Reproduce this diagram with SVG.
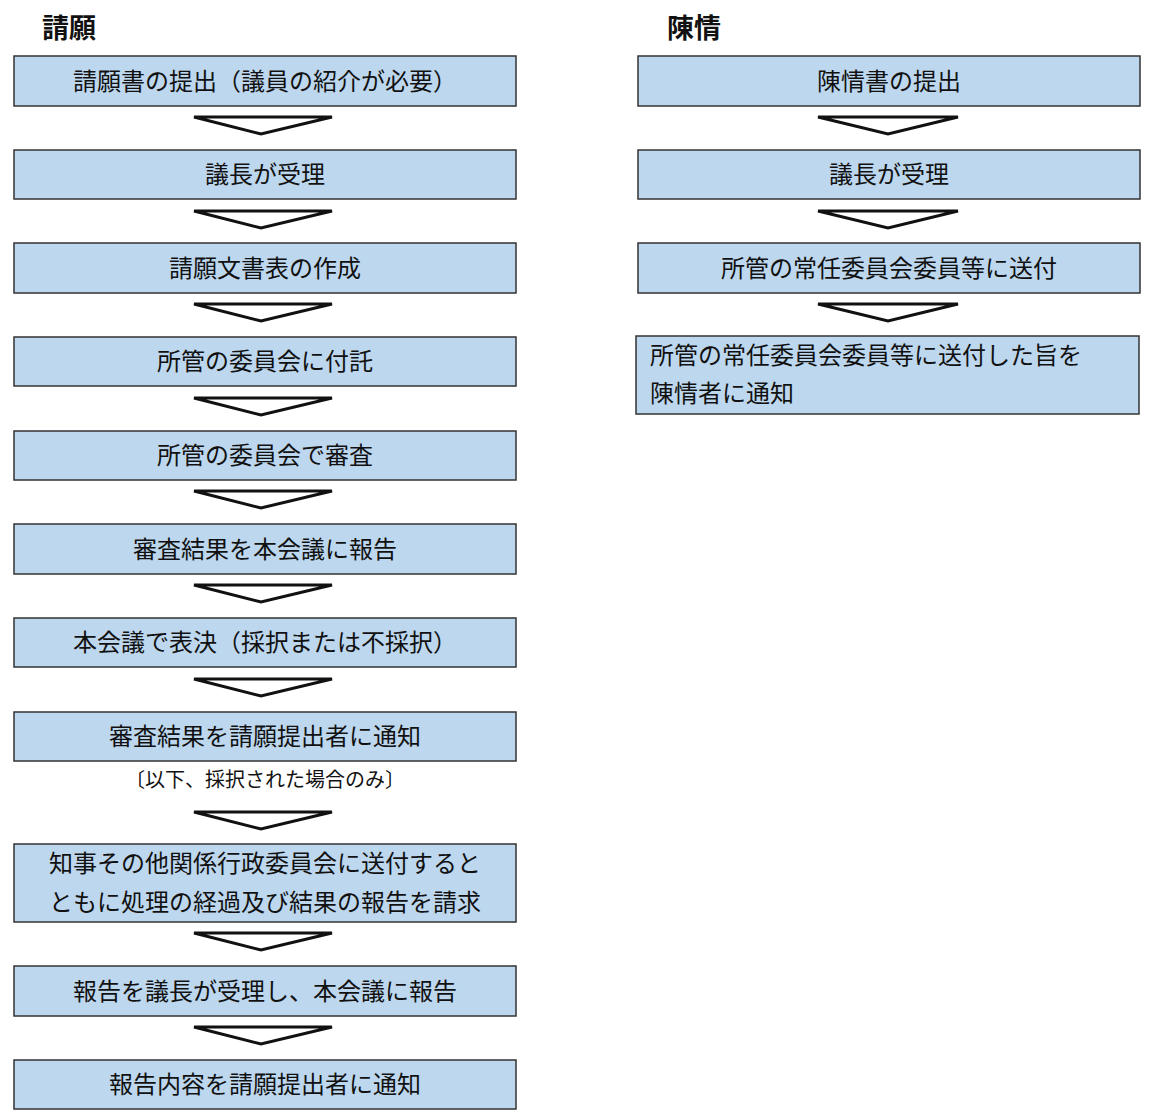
<svg xmlns="http://www.w3.org/2000/svg" width="1153" height="1117" viewBox="0 0 1153 1117">
<style>
.b{fill:#bdd7ee;stroke:#333;stroke-width:1.5}
.t{font-family:"Liberation Serif","Noto Sans CJK JP",serif;font-size:24px;fill:#111}
.c{text-anchor:middle}
.h{font-family:"Liberation Sans","Noto Sans CJK JP",sans-serif;font-size:27px;font-weight:bold;fill:#111}
.a{fill:#fff;stroke:#111;stroke-width:3;stroke-linejoin:miter}
</style>
<rect width="1153" height="1117" fill="#fff"/>
<text class="h" x="42" y="38">請願</text>
<text class="h" x="667" y="38">陳情</text>
<g id="l1"><rect class="b" x="14" y="56" width="502" height="50"/><text class="t c" x="265" y="90">請願書の提出（議員の紹介が必要）</text></g>
<g id="l2"><rect class="b" x="14" y="150" width="502" height="49"/><text class="t c" x="265" y="183">議長が受理</text></g>
<g id="l3"><rect class="b" x="14" y="243" width="502" height="50"/><text class="t c" x="265" y="277">請願文書表の作成</text></g>
<g id="l4"><rect class="b" x="14" y="337" width="502" height="49"/><text class="t c" x="265" y="370">所管の委員会に付託</text></g>
<g id="l5"><rect class="b" x="14" y="431" width="502" height="49"/><text class="t c" x="265" y="464">所管の委員会で審査</text></g>
<g id="l6"><rect class="b" x="14" y="524" width="502" height="50"/><text class="t c" x="265" y="558">審査結果を本会議に報告</text></g>
<g id="l7"><rect class="b" x="14" y="618" width="502" height="49"/><text class="t c" x="265" y="651">本会議で表決（採択または不採択）</text></g>
<g id="l8"><rect class="b" x="14" y="712" width="502" height="49"/><text class="t c" x="265" y="745">審査結果を請願提出者に通知</text></g>
<text class="t c" x="265" y="787" style="font-size:20px">〔以下、採択された場合のみ〕</text>
<g id="l9"><rect class="b" x="14" y="844" width="502" height="78"/><text class="t c" x="265" y="872">知事その他関係行政委員会に送付すると</text><text class="t c" x="265" y="911">ともに処理の経過及び結果の報告を請求</text></g>
<g id="l10"><rect class="b" x="14" y="966" width="502" height="50"/><text class="t c" x="265" y="1000">報告を議長が受理し、本会議に報告</text></g>
<g id="l11"><rect class="b" x="14" y="1060" width="502" height="49"/><text class="t c" x="265" y="1093">報告内容を請願提出者に通知</text></g>
<g id="r1"><rect class="b" x="638" y="56" width="502" height="50"/><text class="t c" x="889" y="90">陳情書の提出</text></g>
<g id="r2"><rect class="b" x="638" y="150" width="502" height="49"/><text class="t c" x="889" y="183">議長が受理</text></g>
<g id="r3"><rect class="b" x="638" y="243" width="502" height="50"/><text class="t c" x="889" y="277">所管の常任委員会委員等に送付</text></g>
<g id="r4"><rect class="b" x="636" y="336" width="503" height="78"/><text class="t" x="650" y="364">所管の常任委員会委員等に送付した旨を</text><text class="t" x="650" y="402">陳情者に通知</text></g>
<g id="connectors">
<polygon class="a" points="194,117 332,117 261,134"/>
<polygon class="a" points="194,211 332,211 261,228"/>
<polygon class="a" points="194,304 332,304 261,321"/>
<polygon class="a" points="194,398 332,398 261,415"/>
<polygon class="a" points="194,491 332,491 261,508"/>
<polygon class="a" points="194,585 332,585 261,602"/>
<polygon class="a" points="194,679 332,679 261,696"/>
<polygon class="a" points="194,812 332,812 261,829"/>
<polygon class="a" points="194,933 332,933 261,950"/>
<polygon class="a" points="194,1027 332,1027 261,1044"/>
<polygon class="a" points="818,117 958,117 888,134"/>
<polygon class="a" points="818,211 958,211 888,228"/>
<polygon class="a" points="818,304 958,304 888,321"/>
</g>
</svg>
